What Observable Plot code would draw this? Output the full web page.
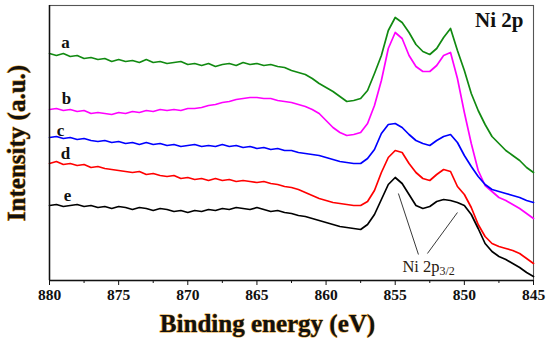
<!DOCTYPE html>
<html>
<head>
<meta charset="utf-8">
<script src="https://cdn.jsdelivr.net/npm/d3@7"></script>
<script src="https://cdn.jsdelivr.net/npm/@observablehq/plot@0.6"></script>
<style>
  html, body { margin: 0; padding: 0; background: #fff; }
</style>
</head>
<body>
<div id="chart"></div>
<script>
// Binding energy grid (eV)
const energy = [880,879.5,879,878.5,878,877.5,877,876.5,876,875.5,875,874.5,874,873.5,873,872.5,872,871.5,871,870.5,870,869.5,869,868.5,868,867.5,867,866.5,866,865.5,865,864.5,864,863.5,863,862.5,862,861.5,861,860.5,860,859.5,859,858.5,858,857.5,857,856.5,856,855.5,855,854.5,854,853.5,853,852.5,852,851.5,851,850.5,850,849.5,849,848.5,848,847.5,847,846.5,846,845.5,845];

// Intensities (a.u., stacked offsets as plotted)
const seriesA = [227,225,227,224,225,222,223,221,222,219,221,219,220,218,221,218,219,217,218,219,216,217,215,217,214,216,217,215,218,216,217,215,216,214,213,210,208,206,202,197,193,189,184,179,180,182,190,207,225,250,263,258,248,236,229,226,232,243,252,230,210,187,170,156,144,137,130,125,120,113,108];
const seriesB = [171,172,170,171,169,170,167,168,167,166,168,167,169,168,170,169,171,170,171,170,172,172,173,175,176,178,179,181,182,183,183,182,182,180,179,178,176,174,171,167,160,153,148,145,146,148,157,175,200,232,248,242,225,214,209,209,215,225,228,202,168,137,110,95,89,83,80,76,72,67,62];
const seriesC = [143,144,142,143,141,142,140,139,140,138,139,137,138,136,138,136,137,135,136,134,135,136,134,135,134,136,134,135,133,134,132,133,131,132,130,130,128,127,126,125,123,121,119,118,117,117,122,131,147,156,157,153,146,140,137,135,140,144,146,138,125,114,104,96,91,89,87,85,83,80,78];
const seriesD = [117,119,116,117,115,116,113,114,112,111,110,109,108,109,106,107,105,104,105,102,103,101,102,100,102,100,101,99,100,99,98,99,97,96,94,93,91,88,85,82,80,78,77,76,75,75,79,90,108,123,130,128,117,108,102,100,106,111,109,94,86,73,56,44,37,34,32,30,27,22,17];
const seriesE = [75,76,74,75,76,74,75,73,74,72,74,73,71,73,72,70,72,71,69,70,68,70,69,71,70,72,71,73,72,71,73,71,69,70,68,67,65,64,62,60,58,56,54,53,52,51,56,66,81,96,103,97,86,75,72,74,79,81,80,78,75,66,52,37,29,24,21,17,13,8,4];

const sampleNames = ["a","b","c","d","e"];
const sampleColors = ["#118a11","#ff00ff","#0000ff","#ff0000","#000000"];
const sampleValues = [seriesA, seriesB, seriesC, seriesD, seriesE];
// label anchor positions (eV, intensity)
const labelEnergy = [878.84, 878.77, 879.2, 878.84, 878.7];
const labelIntensity = [238, 182, 150, 127, 85];

const majorTicks = [880,875,870,865,860,855,850,845];
const minorTicks = [877.5,872.5,867.5,862.5,857.5,852.5,847.5];

// annotation leader lines for Ni 2p3/2 (eV, intensity)
const leaderLines = [
  {x1: 854.77, y1: 87, x2: 853.32, y2: 26},
  {x1: 850.5, y1: 68, x2: 852.67, y2: 27}
];
const annoText = [{x: 854.48, y: 9, t: "Ni 2p3/2"}];
const titleText = [{x: 845.72, y: 260, t: "Ni 2p"}];

const rows = [];
sampleNames.forEach((name, si) => {
  energy.forEach((e, i) => rows.push({sample: name, energy: e, intensity: sampleValues[si][i]}));
});
const labels = sampleNames.map((n, i) => ({t: n, x: labelEnergy[i], y: labelIntensity[i]}));

const serif = "'Liberation Serif', 'Times New Roman', Times, serif";

const plot = Plot.plot({
  width: 550,
  height: 341,
  marginLeft: 49,
  marginRight: 17,
  marginTop: 5,
  marginBottom: 61,
  style: {fontFamily: serif, background: "white", overflow: "visible"},
  x: {domain: [880, 845]},
  y: {domain: [0, 275], axis: null},
  color: {domain: sampleNames, range: sampleColors},
  marks: [
    Plot.frame({stroke: "#555", strokeWidth: 1.1}),
    Plot.line(rows, {x: "energy", y: "intensity", z: "sample", stroke: "sample", strokeWidth: 1.7, curve: "linear"}),
    Plot.link(leaderLines, {x1: "x1", y1: "y1", x2: "x2", y2: "y2", stroke: "#222", strokeWidth: 0.9}),
    Plot.text(annoText, {x: "x", y: "y", text: "t", textAnchor: "start", lineAnchor: "bottom", fontSize: 16.5, fill: "#2a2010"}),
    Plot.text(titleText, {x: "x", y: "y", text: "t", textAnchor: "end", fontSize: 21, fontWeight: "bold", fill: "#111"}),
    Plot.text(labels, {x: "x", y: "y", text: "t", fontSize: 17, fontWeight: "bold", fill: "#111"}),
    Plot.ruleY([0], {stroke: "#111", strokeWidth: 1.5}),
    Plot.ruleX([880], {stroke: "#111", strokeWidth: 1.5}),
    Plot.axisX(majorTicks, {tickSize: 5, tickPadding: 3, fontSize: 15.5, fontWeight: "bold", fill: "#111", stroke: "#111", label: null, tickFormat: d => String(d)}),
    Plot.axisX(minorTicks, {tickSize: 3, text: null, stroke: "#111", label: null}),
    Plot.text(["Binding energy (eV)"], {frameAnchor: "bottom", dx: -24, dy: 43, textAnchor: "middle", lineAnchor: "middle", fontSize: 25, fontWeight: "bold", fill: "#111", stroke: "#e09a2a", strokeWidth: 1.1, paintOrder: "stroke"}),
    Plot.text(["Intensity (a.u.)"], {frameAnchor: "left", dx: -33, rotate: -90, textAnchor: "middle", lineAnchor: "middle", fontSize: 25, fontWeight: "bold", fill: "#111", stroke: "#e09a2a", strokeWidth: 1.1, paintOrder: "stroke"})
  ]
});

document.getElementById("chart").appendChild(plot);

// subscript for Ni 2p3/2
d3.select(plot).selectAll("text").filter(function() { return this.textContent === "Ni 2p3/2"; })
  .each(function() {
    const t = d3.select(this);
    t.text("Ni 2p");
    t.append("tspan").attr("dy", "0.25em").attr("font-size", 12).text("3/2");
  });
</script>
</body>
</html>
